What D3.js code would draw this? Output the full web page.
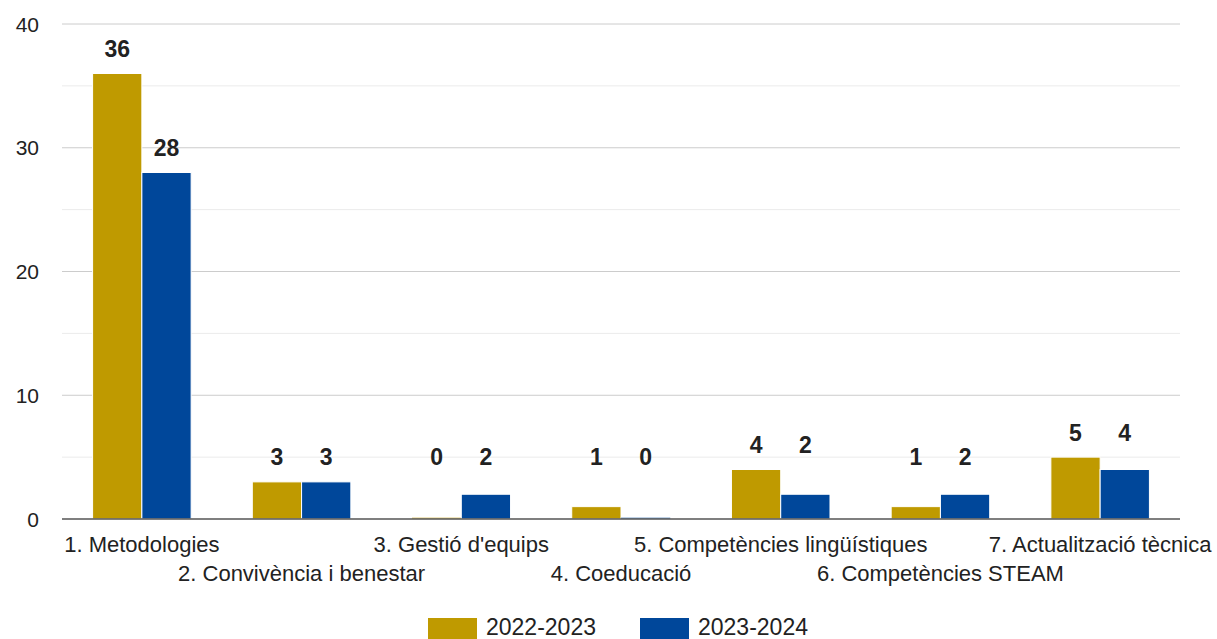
<!DOCTYPE html>
<html>
<head>
<meta charset="utf-8">
<script src="https://cdn.jsdelivr.net/npm/d3@7"></script>
<style>
  html, body { margin: 0; padding: 0; background: #fff; }
  svg { display: block; font-family: "Liberation Sans", Arial, sans-serif; }
</style>
</head>
<body>
<svg id="chart" width="1217" height="639"></svg>
<script>
const categories = [
  "1. Metodologies",
  "2. Convivència i benestar",
  "3. Gestió d'equips",
  "4. Coeducació",
  "5. Competències lingüístiques",
  "6. Competències STEAM",
  "7. Actualització tècnica"
];
const seriesNames = ["2022-2023", "2023-2024"];
const values2022 = [36, 3, 0, 1, 4, 1, 5];
const values2023 = [28, 3, 2, 0, 2, 2, 4];
const majorTicks = [0, 10, 20, 30, 40];
const minorTicks = [5, 15, 25, 35];
const colors = ["#bf9a00", "#00479a"];

(function () {
const svg = d3.select("#chart");
const plotLeft = 62, plotRight = 1180, plotTop = 24, plotBottom = 519;

const x = d3.scaleBand().domain(categories).range([plotLeft, plotRight])
  .paddingInner(0.383).paddingOuter(0.1915);
const xs = d3.scaleBand().domain([0, 1]).range([0, x.bandwidth()]);
const y = d3.scaleLinear().domain([0, 40]).range([plotBottom, plotTop]);

// minor grid
svg.append("g").selectAll("line").data(minorTicks).join("line")
  .attr("x1", plotLeft).attr("x2", plotRight)
  .attr("y1", d => y(d)).attr("y2", d => y(d))
  .attr("stroke", "#ebebeb").attr("stroke-width", 1);
// major grid
svg.append("g").selectAll("line").data(majorTicks.filter(d => d !== 0)).join("line")
  .attr("x1", plotLeft).attr("x2", plotRight)
  .attr("y1", d => y(d)).attr("y2", d => y(d))
  .attr("stroke", "#cccccc").attr("stroke-width", 1);

// y tick labels
svg.append("g").selectAll("text").data(majorTicks).join("text")
  .attr("x", 39).attr("y", d => y(d) + 7.5)
  .attr("text-anchor", "end")
  .attr("font-size", 21).attr("fill", "#222")
  .text(d => d);

const data = categories.map((c, i) => ({ cat: c, vals: [values2022[i], values2023[i]] }));

// bars
const groups = svg.append("g").selectAll("g").data(data).join("g")
  .attr("transform", d => `translate(${x(d.cat)},0)`);
groups.selectAll("rect").data(d => d.vals.map((v, s) => ({ v, s }))).join("rect")
  .attr("x", d => xs(d.s))
  .attr("width", xs.bandwidth())
  .attr("y", d => d.v === 0 ? y(0) - 1.5 : y(d.v))
  .attr("height", d => d.v === 0 ? 1.5 : y(0) - y(d.v))
  .attr("fill", d => colors[d.s])
  .attr("fill-opacity", d => d.v === 0 ? 0.5 : 1)
  .attr("stroke", "#fff").attr("stroke-width", d => d.v === 0 ? 0 : 1);

// baseline
svg.append("line")
  .attr("x1", plotLeft).attr("x2", plotRight)
  .attr("y1", y(0)).attr("y2", y(0))
  .attr("stroke", "#555").attr("stroke-width", 1.5);

// value labels (aligned within a group when values are close, kept above a minimum height)
groups.each(function(d) {
  const anchors = d.vals.map(v => Math.max(v, 3));
  const aligned = Math.abs(anchors[0] - anchors[1]) <= 5;
  const gmax = Math.max(...anchors);
  d3.select(this).selectAll("text.val").data(d.vals.map((v, s) => ({ v, s, a: aligned ? gmax : anchors[s] })))
    .join("text").attr("class", "val")
    .attr("x", e => xs(e.s) + xs.bandwidth() / 2)
    .attr("y", e => y(e.a) - 16.5)
    .attr("text-anchor", "middle")
    .attr("font-size", 23).attr("font-weight", "bold").attr("fill", "#222")
    .text(e => e.v);
});

// category labels, alternating rows
svg.append("g").selectAll("text").data(categories).join("text")
  .attr("x", d => x(d) + x.bandwidth() / 2)
  .attr("y", (d, i) => i % 2 === 0 ? 552 : 581)
  .attr("text-anchor", "middle")
  .attr("font-size", 22).attr("fill", "#222")
  .text(d => d);

// legend
const legendX = [428, 640];
const lg = svg.append("g").selectAll("g").data(seriesNames).join("g")
  .attr("transform", (d, i) => `translate(${legendX[i]},618)`);
lg.append("rect").attr("width", 49).attr("height", 22)
  .attr("fill", (d, i) => colors[i]);
lg.append("text").attr("x", 58).attr("y", 17)
  .attr("font-size", 23).attr("fill", "#222").text(d => d);
})();
</script>
</body>
</html>
